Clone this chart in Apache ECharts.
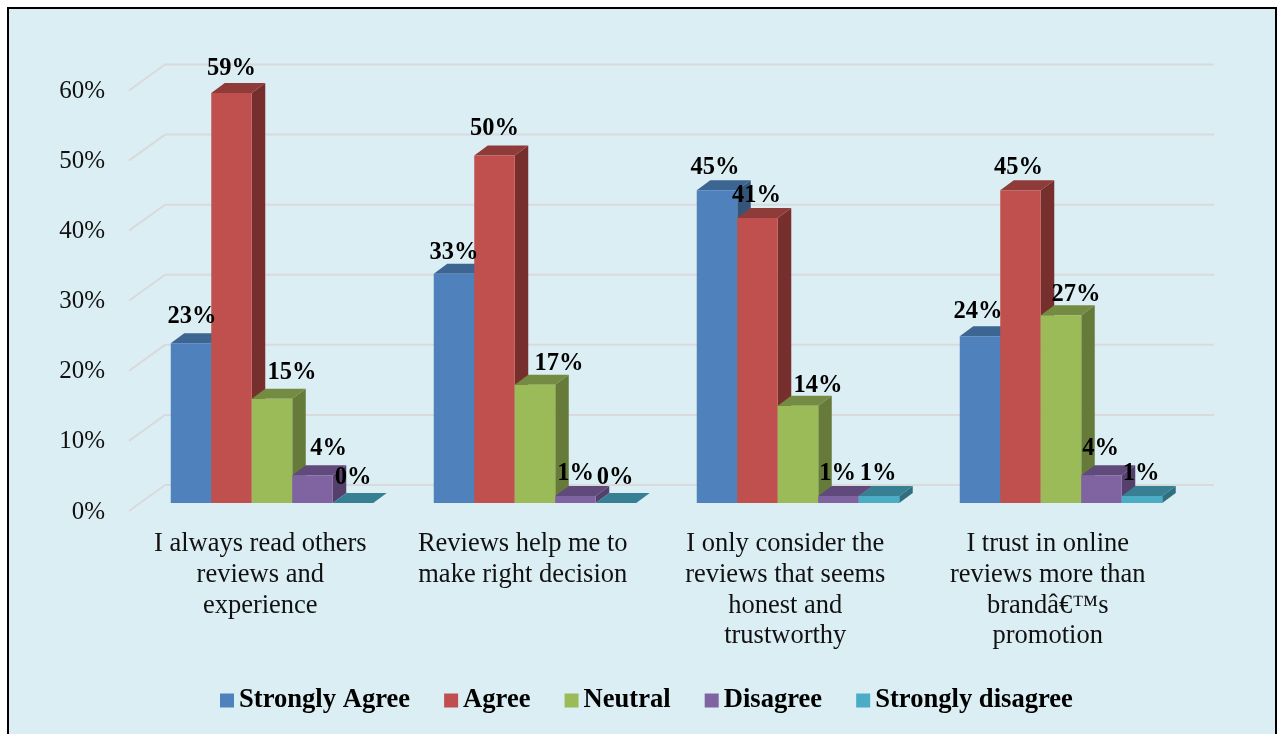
<!DOCTYPE html>
<html>
<head>
<meta charset="utf-8">
<style>html,body{margin:0;padding:0;background:#fff}#chart{width:1278px;height:734px}</style>
<script src="https://cdn.jsdelivr.net/npm/echarts@6/dist/echarts.min.js"></script>
</head>
<body>
<div id="chart"></div>
<script>
// Survey responses per statement, in percent.
const categories = [
  'I always read others\nreviews and\nexperience',
  'Reviews help me to\nmake right decision',
  'I only consider the\nreviews that seems\nhonest and\ntrustworthy',
  'I trust in online\nreviews more than\nbrand\u00e2\u20ac\u2122s\npromotion'
];
const seriesNames = ['Strongly Agree', 'Agree', 'Neutral', 'Disagree', 'Strongly disagree'];
const stronglyAgree = [23, 33, 45, 24];
const agree = [59, 50, 41, 45];
const neutral = [15, 17, 14, 27];
const disagree = [4, 1, 1, 4];
const stronglyDisagree = [0, 0, 1, 1];
const axisTicks = [0, 10, 20, 30, 40, 50, 60];

const seriesValues = [stronglyAgree, agree, neutral, disagree, stronglyDisagree];
const palette = [
  { front: '#4F81BD', top: '#3D6591', side: '#345578' },
  { front: '#C0504D', top: '#8E3B39', side: '#772F2D' },
  { front: '#9BBB59', top: '#738B42', side: '#667B3A' },
  { front: '#8064A2', top: '#604A7B', side: '#553F6B' },
  { front: '#4BACC6', top: '#378093', side: '#2F6F80' }
];

const SERIF = '"Liberation Serif","Times New Roman",serif';
const barShare = 40.5 / 263;          // bar width as a share of the category band
const barDepth = { dx: 13.5, dy: -10 };
const wallDepth = { dx: 36, dy: -27 };
const wallTrim = 1;
const labelLift = 25;
// Hand-placed data labels: [series, category] -> [dx, dy]; Neutral labels sit off to the right.
const labelNudge = {
  '0:0': [1, -1], '0:1': [0, 4], '0:2': [-2, 2], '0:3': [-2, 0],
  '1:0': [0, 1], '1:1': [0, -2], '1:2': [-1, 3], '1:3': [-2, 2],
  '2:0': [20, -1], '2:1': [24, 4], '2:2': [20, 5], '2:3': [15, 4],
  '3:0': [16, -2], '3:1': [0, 3], '3:2': [-1, 3], '3:3': [-1, -2],
  '4:0': [0, 0], '4:1': [-1, 0], '4:2': [-1, 3], '4:3': [-1, 3]
};

function barGeometry(api, seriesIdx) {
  const base = api.coord([api.value(0), 0]);
  const top = api.coord([api.value(0), api.value(1)]);
  const w = api.size([1, 0])[0] * barShare;
  const x = base[0] + (seriesIdx - 2.5) * w;
  return { x, w, yTop: top[1], yBase: base[1] };
}

function renderBar(seriesIdx) {
  return function (params, api) {
    const g = barGeometry(api, seriesIdx);
    const c = palette[seriesIdx];
    const { dx, dy } = barDepth;
    const xr = g.x + g.w;
    return {
      type: 'group',
      children: [
        { type: 'polygon', shape: { points: [[xr, g.yTop], [xr + dx, g.yTop + dy], [xr + dx, g.yBase + dy], [xr, g.yBase]] }, style: { fill: c.side } },
        { type: 'polygon', shape: { points: [[g.x, g.yTop], [g.x + dx, g.yTop + dy], [xr + dx, g.yTop + dy], [xr, g.yTop]] }, style: { fill: c.top } },
        { type: 'rect', shape: { x: g.x, y: g.yTop, width: g.w, height: g.yBase - g.yTop }, style: { fill: c.front } }
      ]
    };
  };
}

function renderLabel(seriesIdx) {
  return function (params, api) {
    const g = barGeometry(api, seriesIdx);
    const nudge = labelNudge[seriesIdx + ':' + params.dataIndex] || [0, 0];
    return {
      type: 'text',
      style: {
        x: g.x + g.w / 2 + nudge[0],
        y: g.yTop - labelLift + nudge[1],
        text: api.value(1) + '%',
        align: 'center',
        verticalAlign: 'middle',
        fill: '#000',
        font: 'bold 24.5px ' + SERIF
      }
    };
  };
}

// Each gridline runs up the floor diagonal and then along the back wall.
function renderWallLine(params, api) {
  const y = api.coord([0, api.value(0)])[1];
  const left = params.coordSys.x;
  const right = left + params.coordSys.width;
  return {
    type: 'polyline',
    shape: { points: [[left, y - 1], [left + wallDepth.dx, y + wallDepth.dy], [right + wallDepth.dx - wallTrim, y + wallDepth.dy]] },
    style: { fill: 'none', stroke: '#D9DADB', lineWidth: 2 }
  };
}

const barSeries = seriesNames.map((name, i) => ({
  name,
  type: 'custom',
  xAxisIndex: 1,
  yAxisIndex: 1,
  z: 3,
  clip: false,
  itemStyle: { color: palette[i].front },
  encode: { x: 0, y: 1 },
  data: seriesValues[i].map((v, k) => [k, v]),
  renderItem: renderBar(i)
}));

const labelSeries = seriesNames.map((name, i) => ({
  name: name + ' labels',
  type: 'custom',
  xAxisIndex: 1,
  yAxisIndex: 1,
  z: 5,
  clip: false,
  encode: { x: 0, y: 1 },
  data: seriesValues[i].map((v, k) => [k, v]),
  renderItem: renderLabel(i)
}));

const chart = echarts.init(document.getElementById('chart'), null, { renderer: 'canvas' });
chart.setOption({
  animation: false,
  backgroundColor: '#fff',
  graphic: [{
    type: 'rect',
    z: -10,
    silent: true,
    shape: { x: 8, y: 8, width: 1268, height: 760 },
    style: { fill: '#DBEEF4', stroke: '#000', lineWidth: 2 }
  }],
  grid: [
    // Axis plane: tick labels and the receding wall lines.
    { left: 129, width: 1050, top: 91.5, height: 420.5 },
    // Bar plane, standing slightly in front of the walls.
    { left: 140.5, width: 1052, top: 86, height: 417 }
  ],
  xAxis: [
    {
      type: 'category', gridIndex: 0, data: categories,
      axisLine: { show: false }, axisTick: { show: false },
      axisLabel: { interval: 0, margin: 17, color: '#111', fontFamily: SERIF, fontSize: 26.5, lineHeight: 30.7, verticalAlign: 'top' }
    },
    { type: 'category', gridIndex: 1, data: categories, show: false }
  ],
  yAxis: [
    {
      type: 'value', gridIndex: 0, min: 0, max: 60, interval: 10,
      axisLine: { show: false }, axisTick: { show: false }, splitLine: { show: false },
      axisLabel: { margin: 24, color: '#111', fontFamily: SERIF, fontSize: 25, formatter: '{value}%' }
    },
    { type: 'value', gridIndex: 1, min: 0, max: 60, show: false, splitLine: { show: false } }
  ],
  legend: {
    data: seriesNames,
    left: 215,
    top: 682,
    icon: 'rect',
    itemWidth: 14,
    itemHeight: 14,
    itemGap: 34,
    itemStyle: { borderWidth: 0 },
    selectedMode: false,
    textStyle: { fontFamily: SERIF, fontWeight: 'bold', fontSize: 26.6, color: '#000' }
  },
  series: [{
    name: 'wall',
    type: 'custom',
    xAxisIndex: 0,
    yAxisIndex: 0,
    z: 1,
    clip: false,
    encode: { y: 0 },
    data: axisTicks.map(v => [v]),
    renderItem: renderWallLine
  }].concat(barSeries, labelSeries)
});
</script>
</body>
</html>
